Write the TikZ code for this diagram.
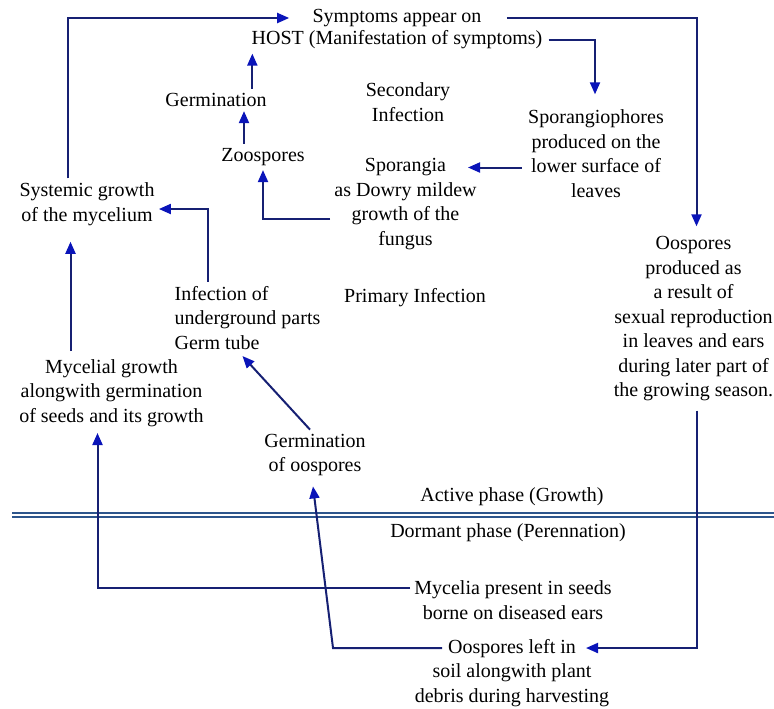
\documentclass[tikz,border=0pt]{standalone}
\usepackage{fontspec}
\setmainfont{Liberation Serif}
\usetikzlibrary{arrows.meta,calc}
\definecolor{arrowblue}{RGB}{22,32,115}
\definecolor{tipblue}{RGB}{10,20,185}
\definecolor{phaseblue}{RGB}{45,85,140}

\begin{document}
\begin{tikzpicture}[x=0.5pt,y=-0.5pt,>={Triangle[length=6pt,width=5pt,color=tipblue]},
  txt/.style={align=center,font=\fontsize{10}{12.25}\selectfont,inner sep=2pt},
  arr/.style={->,arrowblue,line width=1pt}]
\useasboundingbox (0,0) rectangle (774,708);
% secondary cycle
\node[txt] (symptop) at (397,18) {Symptoms appear on};
\node[txt] (symphost) at (397,40) {HOST (Manifestation of symptoms)};
\node[txt] (germ) at (216,100) {Germination};
\node[txt] (zoo) at (263,157) {Zoospores};
\node[txt] (secinf) at (408,102) {Secondary\\Infection};
\node[txt] (sporph) at (596,153.5) {Sporangiophores\\produced on the\\lower surface of\\leaves};
\node[txt] (sporang) at (405.5,204) {Sporangia\\as Dowry mildew\\growth of the\\fungus};
\node[txt] (systemic) at (87,204) {Systemic growth\\of the mycelium};
\node[txt] (oosprod) at (693.5,319) {Oospores\\produced as\\a result of\\sexual reproduction\\in leaves and ears\\during later part of\\the growing season.};
% primary cycle
\node[txt,align=left] (infect) at (247.5,318) {Infection of\\underground parts\\Germ tube};
\node[txt] (priminf) at (415,298) {Primary Infection};
\node[txt] (mycgrowth) at (111.5,393) {Mycelial growth\\alongwith germination\\of seeds and its growth};
\node[txt] (germoos) at (315,455) {Germination\\of oospores};
% phases
\node[txt] (active) at (512,497) {Active phase (Growth)};
\node[txt] (dormant) at (508,533) {Dormant phase (Perennation)};
\draw[phaseblue,line width=0.8pt] (12,513) -- (774,513);
\draw[phaseblue,line width=0.8pt] (12,517) -- (774,517);
\node[txt] (myceseeds) at (513,600) {Mycelia present in seeds\\borne on diseased ears};
\node[txt] (oosleft) at (512,673) {Oospores left in\\soil alongwith plant\\debris during harvesting};
\coordinate (oosbend) at (333,648);
% connectors
\draw[arr] ($(systemic.north)+(-19,0)$) |- ($(symptop.west)+(-19,0)$);
\draw[arr] ($(symptop.east)+(21,0)$) -| ($(oosprod.north)+(3,-6)$);
\draw[arr] ($(symphost.east)+(2,0)$) -| ($(sporph.north)+(-1,-11)$);
\draw[arr] ($(germ.north -| symphost.west)+(5,0)$) -- ($(symphost.south west)+(5,0)$);
\draw[arr] ($(zoo.north)+(-19,0)$) -- ($(zoo.north |- germ.south)+(-19,0)$);
\draw[arr] ($(sporph.west)+(-2,14)$) -- ($(sporang.east |- sporph.west)+(-13,14)$);
\draw[arr] ($(sporang.west)+(0,15)$) -| (zoo.south);
\draw[arr] ($(infect.north)+(-40,0)$) |- ($(systemic.east)+(0,5)$);
\draw[arr] ($(mycgrowth.north)+(-41,-4)$) -- ($(systemic.south -| mycgrowth.north)+(-41,12)$);
\draw[arr] ($(germoos.north)+(-5,0)$) -- ($(infect.south)+(-5,2)$);
\draw[arr] ($(myceseeds.west)+(0,-12)$) -| ($(mycgrowth.south)+(-14,2)$);
\draw[arr] ($(oosleft.center)+(-70,-25)$) -- (oosbend) -- ($(germoos.south)+(-2,6)$);
\draw[arr] ($(oosprod.south)+(3,5)$) |- ($(oosleft.center)+(74,-25)$);
\end{tikzpicture}
\end{document}
